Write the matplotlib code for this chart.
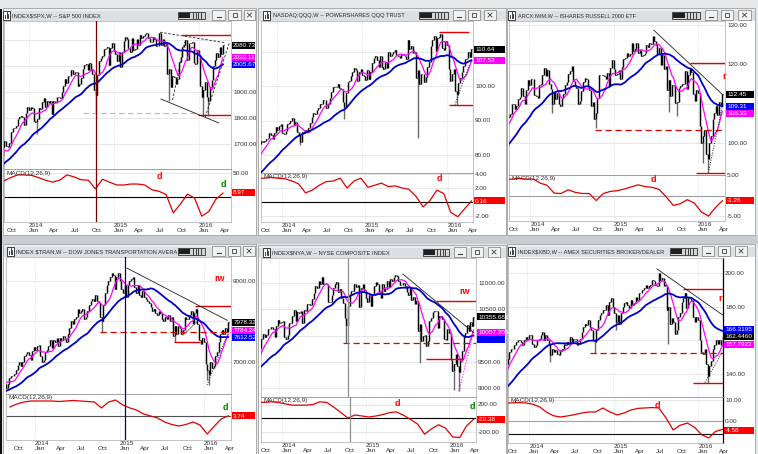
import numpy as np
import pandas as pd
import matplotlib
matplotlib.use('Agg')
import matplotlib.pyplot as plt
from matplotlib.patches import Rectangle
from matplotlib.transforms import Bbox

plt.rcParams['font.family'] = ['Liberation Sans Narrow', 'Liberation Sans', 'DejaVu Sans']

# ------------------------------------------------------------------ data
START = '2013-02-01'          # weekly (Friday) closes start here

spx_close = [
    1513, 1518, 1520, 1516, 1518, 1551, 1561, 1556, 1569, 1553, 1588, 1555, 1582, 1614, 1633, 1667, 1650, 1631, 1643, 1626,
    1593, 1606, 1632, 1680, 1692, 1692, 1710, 1691, 1656, 1664,
    1633, 1655, 1688, 1710, 1692, 1690, 1703, 1745, 1760, 1762, 1771, 1798, 1805, 1806, 1805, 1775, 1818, 1841,
    1831, 1842, 1839, 1790, 1783, 1797, 1839, 1836, 1860, 1878, 1841, 1867, 1858, 1865, 1816, 1865, 1863, 1881, 1879, 1878,
    1900, 1924, 1949, 1936, 1963, 1961, 1985, 1968, 1978, 1978, 1925, 1932, 1955, 1988, 2003, 2008, 1986, 2010, 1983, 1968,
    1906, 1887, 1965, 2018, 2032, 2040, 2064, 2068, 2075, 2002, 2071, 2089,
    2058, 2045, 2019, 2052, 1995, 2055, 2097, 2110, 2105, 2071, 2053, 2108, 2061, 2067, 2102, 2081, 2118, 2108, 2116, 2123,
    2126, 2107, 2093, 2094, 2110, 2102, 2077, 2077, 2127, 2080, 2104, 2078, 2092, 1971, 1989, 1921, 1961, 1958, 1931, 1951,
    2015, 2033, 2075, 2079, 2099, 2023, 2089, 2090, 2092, 2012, 2006, 2061,
    2044, 1922, 1880, 1907, 1940, 1880, 1865, 1918, 1948, 2000, 2022, 2050, 2036, 2073, 2048, 2081,
]
qqq_close = [
    67.8, 68.0, 67.8, 67.4, 67.6, 68.9, 68.7, 68.5, 68.9, 67.6, 69.4, 68.0, 69.5, 71.2, 72.4, 74.0, 73.5, 72.8, 73.0, 72.2,
    70.3, 71.2, 72.5, 74.9, 74.4, 75.9, 77.0, 76.5, 75.3, 76.4,
    76.9, 78.0, 78.8, 79.6, 79.3, 79.6, 80.2, 83.3, 84.0, 83.8, 84.0, 84.7, 84.9, 86.3, 85.9, 84.6, 86.3, 88.2,
    87.3, 88.3, 88.9, 86.3, 86.0, 87.0, 89.0, 89.2, 90.0, 90.6, 88.6, 89.5, 86.8, 85.8, 83.9, 86.6, 86.4, 87.2, 86.8, 87.8,
    89.3, 90.9, 92.2, 91.8, 93.0, 93.6, 94.9, 94.8, 95.9, 96.0, 93.6, 94.8, 96.6, 98.2, 99.6, 99.8, 99.7, 100.5, 99.3, 99.0,
    95.4, 94.0, 98.1, 101.2, 101.5, 103.0, 104.2, 105.1, 104.7, 101.5, 104.1, 104.9,
    103.2, 102.9, 101.6, 104.6, 101.9, 104.2, 106.8, 108.2, 108.8, 107.4, 105.6, 108.8, 105.5, 104.9, 106.9, 105.3, 110.0,
    108.8, 109.3, 109.8, 110.4, 109.1, 108.6, 108.1, 109.1, 108.9, 108.8, 107.9, 113.3, 110.8, 111.6, 109.7, 110.0, 102.2,
    104.6, 100.6, 103.5, 103.5, 101.1, 102.5, 105.4, 107.1, 111.6, 113.4, 114.6, 110.2, 114.0, 114.3, 115.0, 111.0, 110.4,
    113.1,
    111.9, 104.8, 101.4, 103.5, 105.0, 98.6, 97.6, 100.9, 102.4, 104.0, 105.9, 107.8, 108.0, 109.9, 108.4, 110.6,
]
iwm_close = [
    91.0, 91.5, 91.7, 89.9, 91.0, 93.2, 94.4, 94.0, 94.4, 91.8, 93.8, 91.0, 93.5, 95.0, 97.0, 99.3, 98.8, 98.4, 98.6, 97.6,
    95.4, 97.5, 99.5, 103.0, 104.4, 104.6, 105.7, 104.0, 102.4, 103.7,
    101.3, 103.6, 105.4, 107.4, 106.9, 106.6, 107.3, 109.9, 110.0, 108.7, 109.5, 111.1, 111.8, 113.9, 111.9, 110.0, 113.4,
    115.9,
    114.7, 116.3, 116.3, 112.1, 111.9, 111.5, 114.8, 115.0, 117.3, 119.1, 117.1, 118.5, 115.0, 113.8, 110.0, 113.0, 111.3,
    112.6, 110.0, 109.5, 111.4, 112.4, 114.7, 115.5, 117.6, 118.4, 119.6, 115.7, 114.5, 113.9, 109.9, 110.6, 113.1, 115.4,
    116.5, 116.3, 114.4, 113.4, 109.5, 110.3, 106.1, 107.7, 111.5, 117.2, 117.2, 117.3, 117.0, 116.2, 117.9, 114.5, 119.0,
    121.1,
    118.9, 117.2, 117.6, 118.5, 116.2, 119.4, 121.3, 121.5, 123.0, 122.0, 122.7, 125.4, 123.5, 124.0, 125.3, 122.9, 123.6,
    122.0, 122.4, 122.8, 124.8, 124.5, 125.5, 125.1, 127.3, 126.0, 125.0, 122.7, 124.1, 119.9, 122.4, 118.9, 119.6, 113.6,
    116.0, 112.0, 114.7, 114.5, 110.1, 110.4, 113.9, 114.6, 115.0, 115.0, 118.3, 113.7, 117.4, 118.8, 118.0, 112.4, 110.8,
    113.5,
    112.6, 104.4, 100.0, 101.9, 103.4, 97.3, 96.0, 99.9, 101.8, 106.2, 107.5, 109.5, 107.2, 110.5, 109.3, 112.4,
]
tran_close = [
    5950, 6050, 6100, 5950, 6050, 6200, 6250, 6200, 6250, 6000, 6100, 5900, 6050, 6250, 6400, 6550, 6500, 6450, 6400, 6300,
    6100, 6200, 6350, 6500, 6550, 6600, 6650, 6550, 6400, 6450,
    6370, 6450, 6600, 6650, 6660, 6700, 6800, 6930, 7000, 6900, 7000, 7150, 7200, 7250, 7180, 7050, 7280, 7380,
    7300, 7400, 7420, 7150, 7000, 7050, 7250, 7300, 7400, 7550, 7350, 7550, 7500, 7600, 7400, 7600, 7550, 7650, 7600, 7500,
    7700, 7850, 8000, 7950, 8050, 8100, 8300, 8200, 8250, 8300, 8050, 8100, 8250, 8400, 8500, 8550, 8500, 8650, 8500, 8450,
    8100, 8000, 8400, 8700, 8900, 9000, 9100, 9200, 9150, 8800, 9100, 9200,
    9000, 8800, 8700, 8900, 8600, 8900, 9000, 9050, 9100, 8850, 8700, 8900, 8650, 8600, 8750, 8600, 8550, 8500, 8450, 8350,
    8250, 8300, 8200, 8150, 8250, 8200, 8050, 8000, 8100, 8050, 8150, 8000, 8100, 7650, 7900, 7700, 7900, 7850, 7700, 7800,
    8100, 8050, 8050, 8150, 8250, 7950, 8200, 8300, 7950, 7550, 7450, 7600,
    7500, 6950, 6800, 6700, 7000, 6850, 6900, 7150, 7250, 7500, 7700, 7800, 7700, 7850, 7750, 7980,
]
nya_close = [
    8950, 8980, 8990, 8900, 8930, 9100, 9150, 9120, 9190, 9050, 9250, 9050, 9220, 9380, 9420, 9550, 9420, 9340, 9370, 9230,
    8950, 9070, 9200, 9480, 9530, 9530, 9620, 9550, 9370, 9420,
    9380, 9500, 9620, 9740, 9690, 9700, 9760, 9940, 10020, 9980, 10010, 10120, 10130, 10160, 10120, 9980, 10180, 10290,
    10230, 10260, 10280, 9970, 9930, 10010, 10230, 10230, 10380, 10480, 10270, 10440, 10430, 10470, 10230, 10480, 10460,
    10600, 10600, 10590, 10700, 10810, 10950, 10900, 11030, 10980, 11110, 10990, 10990, 10990, 10640, 10640, 10770, 10900,
    10980, 11010, 10830, 10890, 10710, 10620, 10340, 10200, 10570, 10800, 10840, 10850, 10980, 10930, 10970, 10550, 10900,
    10980,
    10830, 10710, 10630, 10780, 10560, 10800, 10950, 11010, 10980, 10830, 10720, 10980, 10850, 10880, 11040, 10930, 11080,
    11040, 11120, 11160, 11140, 11030, 10960, 10970, 11000, 10950, 10830, 10780, 10920, 10680, 10740, 10600, 10650, 10090,
    10220, 9900, 10000, 10010, 9800, 9890, 10280, 10330, 10440, 10460, 10470, 10140, 10380, 10360, 10310, 9940, 9910, 10130,
    10050, 9540, 9330, 9450, 9650, 9420, 9310, 9560, 9700, 9990, 10050, 10200, 10090, 10250, 10180, 10356,
]
xbd_close = [
    118, 119, 120, 118, 119, 123, 124, 123, 123, 120, 122, 119, 122, 126, 128, 131, 131, 132, 131, 129,
    125, 127, 131, 136, 137, 136, 138, 137, 134, 136,
    138, 140, 143, 146, 145, 146, 149, 153, 155, 155, 157, 159, 160, 160, 159, 157, 160, 162,
    161, 163, 163, 158, 156, 157, 160, 161, 163, 165, 160, 163, 160, 158, 151, 155, 153, 154, 152, 151,
    154, 155, 158, 157, 159, 158, 162, 159, 161, 161, 157, 158, 161, 165, 168, 170, 169, 172, 168, 166,
    160, 159, 166, 172, 175, 176, 178, 178, 181, 175, 183, 185,
    180, 176, 171, 175, 170, 176, 180, 182, 183, 181, 179, 184, 181, 182, 186, 184, 188, 188, 190, 191,
    193, 191, 192, 193, 196, 195, 193, 192, 200, 196, 197, 192, 193, 178, 180, 170, 173, 171, 164, 166,
    174, 176, 183, 185, 188, 179, 185, 186, 184, 174, 171, 174,
    172, 160, 153, 152, 155, 146, 139, 145, 148, 155, 157, 160, 158, 160, 157, 162.4,
]

# intraweek spike lows (week date, low)
spx_lows = [('2014-02-07', 1738), ('2014-10-17', 1821), ('2015-08-28', 1867), ('2016-01-22', 1812), ('2016-02-12', 1810)]
qqq_lows = [('2014-04-11', 83.0), ('2014-10-17', 90.3), ('2015-08-28', 85.0), ('2016-02-12', 94.6)]
iwm_lows = [('2014-04-11', 107.5), ('2014-10-17', 103.8), ('2015-08-28', 107.9), ('2015-10-02', 106.8),
            ('2016-01-22', 95.0), ('2016-02-12', 92.4)]
tran_lows = [('2014-10-17', 7740), ('2015-08-28', 7490), ('2016-01-15', 6550), ('2016-01-22', 6430)]
nya_lows = [('2014-10-17', 9850), ('2015-08-28', 9480), ('2016-01-22', 8960), ('2016-02-12', 8950)]
xbd_lows = [('2014-04-11', 147), ('2014-10-17', 152.4), ('2015-01-16', 166), ('2015-08-28', 158), ('2016-02-12', 134.6)]

# MACD(12,26,9) line read monthly
MACD_DATES = ['2013-09-15', '2013-10-15', '2013-11-15', '2013-12-15',
              '2014-01-15', '2014-02-15', '2014-03-15', '2014-04-15', '2014-05-15', '2014-06-15',
              '2014-07-15', '2014-08-15', '2014-09-15', '2014-10-15', '2014-11-15', '2014-12-15',
              '2015-01-15', '2015-02-15', '2015-03-15', '2015-04-15', '2015-05-15', '2015-06-15',
              '2015-07-15', '2015-08-15', '2015-09-15', '2015-10-15', '2015-11-15', '2015-12-15',
              '2016-01-15', '2016-02-15', '2016-03-15', '2016-04-15']
spx_macd = [33, 40, 46, 46, 45, 40, 35, 31, 35, 46, 42, 36, 35, 17, 37, 31,
            25, 25, 27, 27, 25, 15, 12, 5, -33, -15, 6, -2, -40, -30, -5, 8]
qqq_macd = [3.4, 3.4, 3.5, 3.4, 3.3, 3.0, 2.6, 1.3, 1.7, 2.4, 2.9, 3.0, 3.4, 2.0, 3.0, 3.4,
            2.1, 2.4, 2.7, 2.2, 2.3, 2.0, 1.8, 0.8, -0.7, 0.2, 1.7, 1.2, -1.5, -2.1, -1.0, 0.16]
iwm_macd = [4.0, 4.0, 4.2, 4.0, 4.0, 3.0, 2.5, 0.6, 0.5, 1.4, 0.8, 0.5, 0.5, -1.2, 0.5, 1.0,
            1.2, 1.6, 2.1, 2.6, 2.2, 2.0, 1.5, -0.3, -2.4, -2.0, -1.0, -1.8, -4.0, -5.0, -3.0, -1.26]
tran_macd = [180, 240, 280, 300, 300, 300, 300, 290, 300, 310, 300, 290, 280, 160, 280, 320,
             220, 160, 120, 40, 0, -40, -120, -170, -200, -170, -120, -180, -360, -200, -60, 4]
nya_macd = [240, 230, 240, 230, 210, 190, 190, 190, 200, 240, 230, 160, 80, 0, 44, 30,
            15, 30, 50, 80, 90, 40, -20, -90, -240, -160, -100, -150, -280, -290, -120, -20]
xbd_macd = [8.6, 8.6, 8.8, 8.6, 8.0, 6.7, 4.3, 2.5, 1.9, 2.4, 3.0, 3.8, 4.3, 4.3, 6.2, 4.3,
            2.9, 3.8, 5.2, 6.0, 6.2, 6.4, 6.2, 1.4, -4.3, -2.0, -1.0, -2.9, -6.5, -8.1, -5.0, -4.0]

# last-value tags (value, text, kind)
spx_tags = [(2080.73, '2080.73', 'price'), (2032.11, '2032.11', 'fast'), (2005.67, '2005.67', 'slow')]
qqq_tags = [(110.64, '110.64', 'price'), (107.53, '107.53', 'fast')]
iwm_tags = [(112.45, '112.45', 'price'), (109.31, '109.31', 'slow'), (108.33, '108.33', 'fast')]
tran_tags = [(7978.32, '7978.32', 'price'), (7784.24, '7784.24', 'fast'), (7612.52, '7612.52', 'slow')]
nya_tags = [(10355.686, '10355.686', 'price'), (10057.205, '10057.205', 'fast'), (10020.0, '', 'slow')]
xbd_tags = [(166.3195, '166.3195', 'slow'), (162.446, '162.4460', 'price'), (157.7922, '157.7922', 'fast')]
spx_macd_tag, qqq_macd_tag, iwm_macd_tag = (8.97, '8.97'), (0.16, '0.16'), (-1.26, '-1.26')
tran_macd_tag, nya_macd_tag, xbd_macd_tag = (3.74, '3.74'), (-20.38, '-20.38'), (-4.58, '-4.58')

# analyst levels: (value, from, to or None, kind)
spx_levels = [(2120, '2015-10-23', None, 'red'), (1810, '2015-12-28', None, 'red'),
              (1820, '2014-08-22', '2015-12-30', 'pinkdash')]
qqq_levels = [(115.7, '2015-11-26', '2016-04-05', 'red'), (94.6, '2016-01-09', '2016-04-22', 'red')]
iwm_levels = [(120.3, '2015-11-26', None, 'red'), (92.4, '2015-12-22', None, 'red'), (103.3, '2014-10-13', None, 'reddash')]
tran_levels = [(8380, '2015-11-22', None, 'red'), (7490, '2015-08-24', '2015-12-14', 'red'),
               (7740, '2014-10-09', None, 'reddash')]
nya_levels = [(10650, '2015-11-05', None, 'red'), (9550, '2015-09-23', '2016-03-01', 'red'),
              (9850, '2014-10-03', None, 'reddash')]
xbd_levels = [(190.5, '2015-10-28', None, 'red'), (134.6, '2015-12-10', None, 'red'), (152.4, '2014-09-26', None, 'reddash')]

# trend lines: (date0, v0, date1, v1, kind)
spx_trends = [('2015-07-20', 2130, '2016-04-22', 2090, 'dash'), ('2015-07-24', 1873, '2016-03-28', 1781, 'solid'),
              ('2015-09-12', 1869, '2015-11-03', 2092, 'dash'), ('2016-01-30', 1804, '2016-05-12', 2088, 'dash')]
qqq_trends = [('2016-02-04', 94.6, '2016-04-05', 106.0, 'dot')]
iwm_trends = [('2015-06-24', 128.7, '2016-04-18', 112.2, 'solid'), ('2016-02-17', 93.1, '2016-04-14', 109.1, 'dot')]
tran_trends = [('2015-02-02', 9320, '2016-04-10', 8030, 'solid'), ('2016-01-14', 6430, '2016-04-10', 7670, 'dot'),
               ('2015-10-02', 7660, '2015-12-01', 7990, 'gray')]
nya_trends = [('2015-06-17', 11170, '2016-04-17', 10050, 'solid'), ('2016-02-13', 8940, '2016-04-14', 10050, 'mdot')]
xbd_trends = [('2015-07-09', 202.5, '2016-04-16', 175.0, 'solid'), ('2016-01-30', 135.0, '2016-04-13', 152.7, 'dot')]

# notes: (date, value, text, colour, pane)
spx_notes = [('2015-07-18', 42, 'd', 'red', 'm'), ('2016-04-18', 27, 'd', 'green', 'm')]
qqq_notes = [('2015-11-26', 3.3, 'd', 'red', 'm')]
iwm_notes = [('2016-04-22', 117.0, 'r', 'red', 'p'), ('2015-06-22', 3.8, 'd', 'red', 'm')]
tran_notes = [('2016-03-10', 9070, 'rw', 'red', 'p'), ('2016-04-01', 160, 'd', 'green', 'm')]
nya_notes = [('2016-03-06', 10830, 'rw', 'red', 'p'), ('2015-05-18', 222, 'd', 'red', 'm'),
             ('2016-04-10', 163, 'd', 'green', 'm')]
xbd_notes = [('2016-04-05', 185, 'r', 'red', 'p'), ('2015-07-09', 7.6, 'd', 'red', 'm')]

TICK_DATES = ['2013-10-01', '2014-01-01', '2014-04-01', '2014-07-01', '2014-10-01', '2015-01-01',
              '2015-04-01', '2015-07-01', '2015-10-01', '2016-01-01', '2016-04-01']
TICK_LABELS = ['\nOct', '2014\nJan', '\nApr', '\nJul', '\nOct', '2015\nJan',
               '\nApr', '\nJul', '\nOct', '2016\nJan', '\nApr']

# ------------------------------------------------------------------ layout / style
W, H = 758, 454
FS = 4.6
RED = '#e00000'
TAGC = {'price': '#000000', 'fast': '#ff00ff', 'slow': '#0000ff'}


def dec_year(dates):
    d = pd.DatetimeIndex(pd.to_datetime(list(dates)))
    return np.asarray(d.year + (d.dayofyear - 1) / 365.25, dtype=float)


PANELS = [
    dict(title='INDEX$SPX,W -- S&P 500 INDEX', close=spx_close, lows=spx_lows, macd=spx_macd, tags=spx_tags,
         mtag=spx_macd_tag, levels=spx_levels, trends=spx_trends, notes=spx_notes,
         yt=[1700, 1800, 1900, 2000, 2100], myt=[50], vline=('2014-10-17', '#7a0000'), zero='#000000',
         g=dict(wl=3, wr=256, tt=9, tb=21, pl=4, pr=231, pt=21, pb=169, mb=222, j14=28.5, ppy=85.0,
                pref=(1900, 92, 1700, 144), mref=(0, 197, 50, 173), tw=(88, None),
                icon=(3, 10), tx=12, save=(178, 205), btns=[(212, 225), (228, 241), (244, 255)])),
    dict(title='NASDAQ:QQQ,W -- POWERSHARES QQQ TRUST', close=qqq_close, lows=qqq_lows, macd=qqq_macd, tags=qqq_tags,
         mtag=qqq_macd_tag, levels=qqq_levels, trends=qqq_trends, notes=qqq_notes,
         yt=[80, 90, 100, 110], myt=[4, 2, -2], vline=None, zero='#000000',
         g=dict(wl=258, wr=506, tt=9, tb=21, pl=261, pr=473, pt=21, pb=173, mb=222, j14=277, ppy=85.0,
                pref=(100, 86, 80, 155), mref=(0, 202, 2, 188), tw=(131, None),
                icon=(263, 270), tx=273, save=(419, 448), btns=[(453, 465), (468, 480), (484, 496)])),
    dict(title='ARCX:IWM,W -- ISHARES RUSSELL 2000 ETF', close=iwm_close, lows=iwm_lows, macd=iwm_macd, tags=iwm_tags,
         mtag=iwm_macd_tag, levels=iwm_levels, trends=iwm_trends, notes=iwm_notes,
         yt=[100, 110, 120, 130], myt=[5, 0, -5], vline=None, zero='#a0a0a0',
         g=dict(wl=507, wr=755, tt=9, tb=21, pl=509, pr=725, pt=21, pb=175, mb=221, j14=529, ppy=84.5,
                pref=(130, 25, 100, 143), mref=(0, 195, 5, 174), tw=(119, None),
                icon=(508, 515), tx=518, save=(672, 700), btns=[(705, 717), (721, 733), (738, 751)])),
    dict(title='INDEX $TRAN,W -- DOW JONES TRANSPORTATION AVERAGE', close=tran_close, lows=tran_lows, macd=tran_macd,
         tags=tran_tags, mtag=tran_macd_tag, levels=tran_levels, trends=tran_trends, notes=tran_notes,
         yt=[7000, 8000, 9000], myt=[], vline=('2015-01-24', '#000080'), zero='#505050',
         g=dict(wl=3, wr=256, tt=245, tb=257, pl=6, pr=231, pt=257, pb=394, mb=440, j14=35, ppy=84.5,
                pref=(9000, 281, 7000, 362), mref=(0, 416, 100, 411), tw=(162, 47),
                icon=(7, 14), tx=16, save=(178, 205), btns=[(212, 225), (228, 240), (243, 255)])),
    dict(title='INDEX$NYA,W -- NYSE COMPOSITE INDEX', close=nya_close, lows=nya_lows, macd=nya_macd, tags=nya_tags,
         mtag=nya_macd_tag, levels=nya_levels, trends=nya_trends, notes=nya_notes,
         yt=[9000, 9500, 10000, 10500, 11000], myt=[200, -200], vline=('2014-10-24', '#909090'), zero='#000000',
         g=dict(wl=258, wr=506, tt=246, tb=258, pl=261, pr=476, pt=258, pb=397, mb=442, j14=279, ppy=85.0,
                pref=(11000, 283, 9000, 388), mref=(0, 418, 200, 404.5), tw=(118, None),
                icon=(263, 270), tx=272, save=(423, 449), btns=[(454, 466), (471, 483), (488, 500)])),
    dict(title='INDEX$XBD,W -- AMEX SECURITIES BROKER/DEALER', close=xbd_close, lows=xbd_lows, macd=xbd_macd,
         tags=xbd_tags, mtag=xbd_macd_tag, levels=xbd_levels, trends=xbd_trends, notes=xbd_notes,
         yt=[140, 160, 180, 200], myt=[10, 0], vline=None, zero='#a0a0a0', extra_zero=-6.2, right_black=True,
         g=dict(wl=507, wr=755, tt=245, tb=257, pl=508, pr=723, pt=258, pb=397, mb=443, j14=527, ppy=85.5,
                pref=(200, 273, 140, 374), mref=(0, 421, 10, 400), tw=(147, None),
                icon=(508, 515), tx=518, save=(670, 697), btns=[(702, 714), (718, 730), (735, 747)])),
]

fig = plt.figure(figsize=(W / 100, H / 100), dpi=100)
renderer = fig.canvas.get_renderer()
bg = fig.add_axes([0, 0, 1, 1], zorder=0)
bg.set_xlim(0, W); bg.set_ylim(H, 0); bg.axis('off')
ov = fig.add_axes([0, 0, 1, 1], zorder=10)
ov.set_xlim(0, W); ov.set_ylim(H, 0); ov.axis('off'); ov.set_facecolor('none')

bg.add_patch(Rectangle((0, 0), W, H, fc='#e6e8ea', ec='none'))
bg.add_patch(Rectangle((0, 235), W, 9, fc='#c9cdd2', ec='none'))


def add_ax(l, t, r, b, z=2):
    return fig.add_axes([l / W, 1 - b / H, (r - l) / W, (b - t) / H], zorder=z)


def lim_from(ref, top, bot):
    va, ya, vb, yb = ref
    k = (vb - va) / (yb - ya)
    return va + (bot - ya) * k, va + (top - ya) * k


def chrome(p):
    g = p['g']
    body_bot = 235 if g['tt'] < 100 else H
    bg.add_patch(Rectangle((g['wl'], g['tt'] - 1), g['wr'] - g['wl'], body_bot - g['tt'] + 1,
                           fc='white', ec='#a0a0a0', lw=0.6))
    bg.add_patch(Rectangle((g['wl'] + 0.5, g['tt']), g['wr'] - g['wl'] - 1, g['tb'] - g['tt'],
                           fc='#dcdfe3', ec='none'))
    bg.add_patch(Rectangle((g['wl'] + 0.5, g['tt']), g['wr'] - g['wl'] - 1, 2, fc='#eceef0', ec='none'))
    cy = (g['tt'] + g['tb']) / 2
    i0, i1 = g['icon']
    bg.add_patch(Rectangle((i0, cy - 4.5), i1 - i0, 9, fc='white', ec='#202020', lw=0.6))
    for k, hh in enumerate([3, 6, 4]):
        xx = i0 + 1.8 + k * 1.7
        bg.plot([xx, xx], [cy + 3, cy + 3 - hh], color='#202020', lw=0.6)
    # fit the title to the width it takes in the reference
    width_px, nchars = g['tw']
    probe = p['title'] if nchars is None else p['title'][:nchars]
    t = bg.text(g['tx'], cy + 0.3, probe, fontsize=6, color='#2a2a2a', va='center', ha='left')
    w0 = t.get_window_extent(renderer).width
    t.set_fontsize(min(6.2, 6 * width_px / w0))
    t.set_text(p['title'])
    x_clip = g['save'][0] - 1
    t.set_clip_box(Bbox.from_extents(0, H - g['tb'], x_clip, H - g['tt']))
    t.set_clip_on(True)
    s0, s1 = g['save']
    bg.add_patch(Rectangle((s0, cy - 3.5), s1 - s0, 7, fc='#d4d4d4', ec='#303030', lw=0.6, zorder=3))
    bg.add_patch(Rectangle((s0 + 1, cy - 2.5), (s1 - s0) * 0.42, 5, fc='#202020', ec='none', zorder=3))
    for k in range(4):
        xx = s0 + (s1 - s0) * (0.55 + 0.1 * k)
        bg.plot([xx, xx], [cy - 2.5, cy + 2.5], color='#202020', lw=0.6, zorder=3)
    for j, (b0, b1) in enumerate(g['btns']):
        bg.add_patch(Rectangle((b0, cy - 5), b1 - b0, 10, fc='#f2f2f2', ec='#8c8c8c', lw=0.6, zorder=3))
        mx = (b0 + b1) / 2
        if j == 0:
            bg.plot([mx - 2, mx + 2], [cy + 2, cy + 2], color='#404040', lw=0.8, zorder=4)
        elif j == 1:
            bg.add_patch(Rectangle((mx - 2, cy - 2), 4, 4, fc='none', ec='#404040', lw=0.6, zorder=4))
        else:
            bg.plot([mx - 2, mx + 2], [cy - 2, cy + 2], color='#404040', lw=0.6, zorder=4)
            bg.plot([mx - 2, mx + 2], [cy + 2, cy - 2], color='#404040', lw=0.6, zorder=4)


def put_tags(ax, tags, left, right, h=7.0):
    items = []
    for v, txt, col in tags:
        ypx = H - ax.transData.transform((ax.get_xlim()[0], v))[1]
        items.append([ypx, txt, col])
    items.sort(key=lambda it: it[0])
    for i in range(1, len(items)):
        if items[i][0] - items[i - 1][0] < h:
            items[i][0] = items[i - 1][0] + h
    for ypx, txt, col in items:
        ov.add_patch(Rectangle((left, ypx - h / 2), right - left, h, fc=col, ec='none'))
        if txt:
            ov.text(left + 1.2, ypx + 0.2, txt, color='white', fontsize=FS, va='center', ha='left')
    return [it[0] for it in items]


def hide_covered(ax, yvals, tag_px, gap=6.0):
    for v, lab in zip(yvals, ax.get_yticklabels()):
        ypx = H - ax.transData.transform((ax.get_xlim()[0], v))[1]
        if any(abs(ypx - tp) < gap for tp in tag_px):
            lab.set_visible(False)


def style_axis(ax, yvals):
    ax.yaxis.tick_right()
    ax.set_yticks(yvals)
    ax.set_yticklabels([f'{v:.2f}' for v in yvals])
    ax.tick_params(axis='y', length=0, pad=1.5, labelsize=FS, labelcolor='#303030')
    for s in ax.spines.values():
        s.set_color('#b8b8b8'); s.set_linewidth(0.6)
    for v in yvals:
        ax.axhline(v, color='#dddddd', lw=0.5, zorder=0)
    for yr in (2014, 2015, 2016):
        ax.axvline(yr, color='#d4d4d4', lw=0.5, ls=(0, (1, 1.5)), zorder=0)


LINE_KIND = {'solid': dict(color='#202020', lw=0.6, ls='-'),
             'dash': dict(color='#202020', lw=0.6, ls=(0, (3, 2))),
             'dot': dict(color='#202020', lw=0.7, ls=(0, (1, 1.5))),
             'mdot': dict(color='#ff00ff', lw=0.8, ls=(0, (1, 1.5))),
             'gray': dict(color='#707070', lw=0.6, ls='-')}
LEVEL_KIND = {'red': dict(color=RED, lw=1.0, linestyles='-'),
              'reddash': dict(color=RED, lw=0.9, linestyles=(0, (5, 3))),
              'pinkdash': dict(color='#ff9a9a', lw=0.8, linestyles=(0, (5, 3)))}

for p in PANELS:
    g = p['g']
    chrome(p)
    xa = 2014 + (g['pl'] - g['j14']) / g['ppy']
    xb = 2014 + (g['pr'] - g['j14']) / g['ppy']
    axp = add_ax(g['pl'], g['pt'], g['pr'], g['pb'])
    axm = add_ax(g['pl'], g['pb'], g['pr'], g['mb'])

    close = np.asarray(p['close'], float)
    x = dec_year(pd.date_range(START, periods=len(close), freq='W-FRI'))
    prev = np.r_[close[0], close[:-1]]
    lo, hi = np.minimum(prev, close), np.maximum(prev, close)

    axp.set_xlim(xa, xb)
    axp.set_ylim(*lim_from(g['pref'], g['pt'], g['pb']))
    style_axis(axp, p['yt'])
    axp.set_xticks([])

    for d, low in p['lows']:
        idx = int(np.argmin(np.abs(x - dec_year([d])[0])))
        axp.vlines(x[idx], low, lo[idx], color='#6a6a6a', lw=1.0, zorder=2)
    axp.vlines(x, lo, hi, color='black', lw=1.05, zorder=3)
    axp.hlines(close, x, x + 0.009, color='black', lw=0.7, zorder=3)

    s = pd.Series(close)
    axp.plot(x, s.rolling(8, min_periods=1).mean(), color='#ff00ff', lw=0.9, zorder=4)
    axp.plot(x, s.rolling(30, min_periods=1).mean(), color='#0000c8', lw=1.3, zorder=4)

    for v, d0, d1, kind in p['levels']:
        x0 = dec_year([d0])[0]
        x1 = dec_year([d1])[0] if d1 else xb
        axp.hlines(v, x0, x1, zorder=5, **LEVEL_KIND[kind])
    for d0, v0, d1, v1, kind in p['trends']:
        axp.plot(dec_year([d0, d1]), [v0, v1], zorder=5, **LINE_KIND[kind])

    # MACD pane
    axm.set_xlim(xa, xb)
    axm.set_ylim(*lim_from(g['mref'], g['pb'], g['mb']))
    style_axis(axm, p['myt'])
    axm.axhline(0, color=p['zero'], lw=0.8, zorder=1)
    if 'extra_zero' in p:
        axm.axhline(p['extra_zero'], color='#101010', lw=0.8, zorder=1)
    axm.plot(dec_year(MACD_DATES), p['macd'], color=RED, lw=0.9, zorder=3)
    axm.set_xticks(dec_year(TICK_DATES))
    axm.set_xticklabels(TICK_LABELS, fontsize=FS, ha='left', linespacing=0.95, color='#303030')
    axm.tick_params(axis='x', length=0, pad=0.6)
    axm.text(0.01, 0.97, 'MACD(12,26,9)', transform=axm.transAxes, fontsize=FS, color='#303030',
             va='top', ha='left')
    axm.spines['top'].set_color('#909090')

    if p['vline']:
        d, col = p['vline']
        axp.axvline(dec_year([d])[0], color=col, lw=0.9, zorder=5)
        axm.axvline(dec_year([d])[0], color=col, lw=0.9, zorder=5)
    if p.get('right_black'):
        axp.spines['right'].set_color('black'); axm.spines['right'].set_color('black')
        axp.spines['right'].set_linewidth(0.9); axm.spines['right'].set_linewidth(0.9)

    for d, v, txt, col, pane in p['notes']:
        a = axp if pane == 'p' else axm
        a.text(dec_year([d])[0], v, txt, color=col, fontsize=6.5, fontweight='bold',
               ha='center', va='center', zorder=6, clip_on=False)

    tp = put_tags(axp, [(v, t, TAGC[k]) for v, t, k in p['tags']], g['pr'] + 1, g['wr'] - 1.5)
    hide_covered(axp, p['yt'], tp)
    tm = put_tags(axm, [(p['mtag'][0], p['mtag'][1], '#ff0000')], g['pr'] + 1, g['wr'] - 1.5)
    hide_covered(axm, p['myt'], tm)

# screen edge on the far left
bg.add_patch(Rectangle((0, 9), 2, H - 9, fc='#101010', ec='none', zorder=5))

fig.savefig('out.png', dpi=100)
